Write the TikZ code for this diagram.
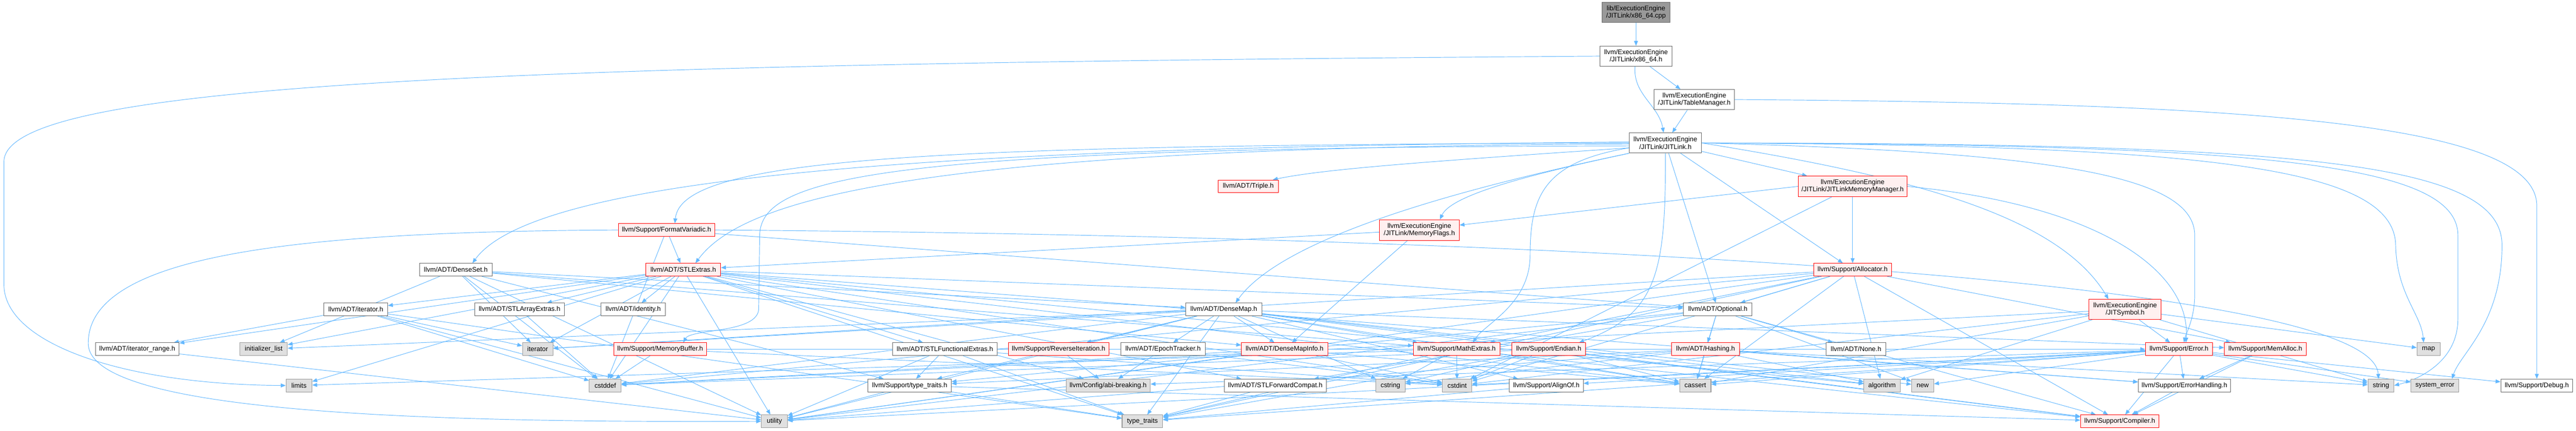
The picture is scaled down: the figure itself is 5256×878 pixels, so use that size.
\documentclass[tikz,border=0pt]{standalone}
\usepackage{fontspec}
\newfontfamily\gfont{Liberation Sans}
\usetikzlibrary{arrows.meta}
\pgfdeclarelayer{bg}
\pgfsetlayers{bg,main}
\definecolor{edgec}{HTML}{63B8FF}
\definecolor{cdark}{HTML}{666666}
\definecolor{cmid}{HTML}{999999}
\definecolor{cgray}{HTML}{E0E0E0}
\definecolor{cred}{HTML}{FF0000}
\definecolor{cpink}{HTML}{FFF0F0}
\tikzset{
  box/.style={draw, line width=1.1pt, inner sep=0pt, align=center,
    font=\gfont\fontsize{13.6pt}{15pt}\selectfont, text=black},
  wn/.style={box, draw=cdark, fill=white},
  rn/.style={box, draw=cred, fill=cpink},
  gn/.style={box, draw=cmid, fill=cgray},
  tn/.style={box, draw=cdark, fill=cmid},
  edge/.style={draw=edgec, line width=1pt, -{Triangle[length=10pt,width=8pt]}, fill=none},
}
\begin{document}
\begin{tikzpicture}[x=1pt,y=1pt]
\useasboundingbox (0,0) rectangle (5256,-878);
% row 0-3
\node[tn, minimum width=139pt, minimum height=41pt] (cpp) at (3338,-25.5) {lib/ExecutionEngine\\/JITLink/x86\_64.cpp};
\node[wn, minimum width=147pt, minimum height=41pt] (x86h) at (3338,-114.5) {llvm/ExecutionEngine\\/JITLink/x86\_64.h};
\node[wn, minimum width=164pt, minimum height=41pt] (tm) at (3457,-203) {llvm/ExecutionEngine\\/JITLink/TableManager.h};
\node[wn, minimum width=147pt, minimum height=41pt] (jl) at (3398,-291.5) {llvm/ExecutionEngine\\/JITLink/JITLink.h};
% row 4
\node[rn, minimum width=222pt, minimum height=42pt] (jlmm) at (3780,-380) {llvm/ExecutionEngine\\/JITLink/JITLinkMemoryManager.h};
\node[rn, minimum width=123pt, minimum height=26pt] (triple) at (2547,-380) {llvm/ADT/Triple.h};
% row 5
\node[rn, minimum width=197pt, minimum height=26pt] (fv) at (1360,-469) {llvm/Support/FormatVariadic.h};
\node[rn, minimum width=163pt, minimum height=42pt] (mf) at (2896,-469) {llvm/ExecutionEngine\\/JITLink/MemoryFlags.h};
% row 6
\node[wn, minimum width=148pt, minimum height=26pt] (dset) at (930,-550) {llvm/ADT/DenseSet.h};
\node[rn, minimum width=153pt, minimum height=26pt] (stlx) at (1394,-550) {llvm/ADT/STLExtras.h};
\node[rn, minimum width=158pt, minimum height=26pt] (alloc) at (3780,-550) {llvm/Support/Allocator.h};
% row 7
\node[wn, minimum width=130pt, minimum height=26pt] (iterh) at (726,-631) {llvm/ADT/iterator.h};
\node[wn, minimum width=183pt, minimum height=26pt] (stlarr) at (1060,-631) {llvm/ADT/STLArrayExtras.h};
\node[wn, minimum width=132pt, minimum height=26pt] (ident) at (1292,-631) {llvm/ADT/identity.h};
\node[wn, minimum width=155pt, minimum height=26pt] (dmap) at (2497,-631) {llvm/ADT/DenseMap.h};
\node[wn, minimum width=140pt, minimum height=26pt] (opt) at (3505,-631) {llvm/ADT/Optional.h};
\node[rn, minimum width=147pt, minimum height=41pt] (jitsym) at (4336,-631) {llvm/ExecutionEngine\\/JITSymbol.h};
% row 8
\node[wn, minimum width=171pt, minimum height=26pt] (itrange) at (280,-712) {llvm/ADT/iterator\_range.h};
\node[gn, minimum width=97pt, minimum height=26pt] (initl) at (538,-712) {initializer\_list};
\node[gn, minimum width=62pt, minimum height=26pt] (iter) at (1097,-712) {iterator};
\node[rn, minimum width=190pt, minimum height=26pt] (membuf) at (1347,-712) {llvm/Support/MemoryBuffer.h};
\node[wn, minimum width=213pt, minimum height=26pt] (stlfunc) at (1928,-712) {llvm/ADT/STLFunctionalExtras.h};
\node[rn, minimum width=205pt, minimum height=26pt] (reviter) at (2160,-712) {llvm/Support/ReverseIteration.h};
\node[wn, minimum width=172pt, minimum height=26pt] (epoch) at (2373,-712) {llvm/ADT/EpochTracker.h};
\node[rn, minimum width=176pt, minimum height=26pt] (dmi) at (2621,-712) {llvm/ADT/DenseMapInfo.h};
\node[rn, minimum width=177pt, minimum height=26pt] (mathx) at (2972,-712) {llvm/Support/MathExtras.h};
\node[rn, minimum width=150pt, minimum height=26pt] (endian) at (3160,-712) {llvm/Support/Endian.h};
\node[rn, minimum width=139pt, minimum height=26pt] (hash) at (3480,-712) {llvm/ADT/Hashing.h};
\node[wn, minimum width=122pt, minimum height=26pt] (none) at (3787,-712) {llvm/ADT/None.h};
\node[rn, minimum width=137pt, minimum height=26pt] (error) at (4446,-712) {llvm/Support/Error.h};
\node[rn, minimum width=167pt, minimum height=26pt] (memalloc) at (4622,-712) {llvm/Support/MemAlloc.h};
\node[gn, minimum width=47pt, minimum height=26pt] (map) at (4955,-712) {map};
% row 9
\node[gn, minimum width=53pt, minimum height=26pt] (limits) at (610,-786) {limits};
\node[gn, minimum width=65pt, minimum height=26pt] (cstddef) at (1235,-786) {cstddef};
\node[wn, minimum width=170pt, minimum height=26pt] (stt) at (1856,-786) {llvm/Support/type\_traits.h};
\node[gn, minimum width=172pt, minimum height=26pt] (abi) at (2261,-786) {llvm/Config/abi-breaking.h};
\node[wn, minimum width=208pt, minimum height=26pt] (stlfwd) at (2602,-786) {llvm/ADT/STLForwardCompat.h};
\node[gn, minimum width=60pt, minimum height=26pt] (cstring) at (2837,-786) {cstring};
\node[gn, minimum width=60pt, minimum height=26pt] (cstdint) at (2973,-786) {cstdint};
\node[wn, minimum width=151pt, minimum height=26pt] (alignof) at (3155,-786) {llvm/Support/AlignOf.h};
\node[gn, minimum width=64pt, minimum height=26pt] (cassert) at (3459,-786) {cassert};
\node[gn, minimum width=74pt, minimum height=26pt] (algorithm) at (3840,-786) {algorithm};
\node[gn, minimum width=45pt, minimum height=26pt] (new) at (3923,-786) {new};
\node[wn, minimum width=188pt, minimum height=26pt] (ehandling) at (4457,-786) {llvm/Support/ErrorHandling.h};
\node[gn, minimum width=53pt, minimum height=26pt] (string) at (4858,-786) {string};
\node[gn, minimum width=97pt, minimum height=26pt] (syserr) at (4968,-786) {system\_error};
\node[wn, minimum width=147pt, minimum height=26pt] (debug) at (5176,-786) {llvm/Support/Debug.h};
% row 10
\node[gn, minimum width=53pt, minimum height=26pt] (utility) at (1580,-859) {utility};
\node[gn, minimum width=83pt, minimum height=26pt] (typetraits) at (2331,-859) {type\_traits};
\node[rn, minimum width=160pt, minimum height=26pt] (compiler) at (4325,-859) {llvm/Support/Compiler.h};

\begin{pgfonlayer}{bg}
\fill[white] (0,0) rectangle (5256,-878);
\foreach \a/\b in {cpp/x86h, x86h/tm, tm/jl, jl/jlmm, jl/opt, jl/alloc,
  jlmm/alloc, fv/stlx, fv/opt, fv/cstddef, mf/dmi, mf/stlx, jlmm/cstdint,
  stlx/ident, stlx/stlarr, stlx/iterh, stlx/iter, stlx/cstddef, stlx/utility, stlx/typetraits,
  stlx/stlfunc, stlx/stlfwd, stlx/abi, stlx/opt, stlx/algorithm, stlx/cassert, stlx/cstdint,
  stlx/ehandling, stlx/itrange, stlx/initl, stlx/limits,
  dset/dmap, dset/iter, dset/cstddef, dset/utility, dset/stt, dset/dmi, dset/mathx, dset/initl,
  iterh/itrange, iterh/cstddef, iterh/iter, iterh/typetraits, iterh/utility,
  itrange/utility, stlarr/cstddef,
  dmap/dmi, dmap/epoch, dmap/alignof, dmap/compiler, dmap/mathx, dmap/memalloc, dmap/reviter,
  dmap/stt, dmap/algorithm, dmap/cassert, dmap/cstddef, dmap/cstring, dmap/iter, dmap/new,
  dmap/typetraits, dmap/utility, dmap/initl,
  opt/hash, opt/none, opt/stlfwd, opt/compiler, opt/stt, opt/cassert, opt/new, opt/utility,
  membuf/cstddef, membuf/cstdint, membuf/error,
  stlfunc/stt, stlfunc/cstdint, stlfunc/typetraits, stlfunc/utility,
  reviter/abi, epoch/abi, epoch/cstdint,
  dmi/cassert, dmi/cstddef, dmi/cstdint, dmi/utility,
  mathx/compiler, mathx/cassert, mathx/cstdint, mathx/cstring, mathx/limits, mathx/typetraits,
  endian/compiler, endian/cassert, endian/cstddef, endian/cstdint, endian/cstring, endian/typetraits,
  hash/ehandling, hash/stt, hash/algorithm, hash/cassert, hash/cstring, hash/string, hash/utility,
  alloc/opt, alloc/compiler, alloc/mathx, alloc/memalloc, alloc/algorithm, alloc/cassert,
  alloc/cstddef, alloc/cstdint, alloc/iter, alloc/typetraits, alloc/utility,
  jitsym/error, jitsym/algorithm, jitsym/cassert, jitsym/cstddef, jitsym/cstdint, jitsym/map, jitsym/string,
  error/abi, error/alignof, error/compiler, error/debug, error/ehandling, error/cassert,
  error/cstdint, error/new, error/string, error/syserr, error/typetraits, error/utility,
  memalloc/compiler, memalloc/ehandling, ehandling/compiler,
  stt/compiler, stt/typetraits, stt/utility, alignof/typetraits, stlfwd/typetraits}
  \draw[edge] (\a) -- (\b);
\draw[edge] (x86h) to[out=-95,in=100] (jl);
\draw[edge] (x86h.west) .. controls (1000,-130) and (8,-170) .. (8,-330) -- (8,-580) .. controls (8,-700) and (250,-784) .. (limits.west);
\draw[edge] (tm.east) .. controls (4600,-210) and (5176,-250) .. (5176,-420) -- (debug.north);
\draw[edge] ([yshift=-10pt]jl.west) .. controls (2900,-330) and (2700,-345) .. ([xshift=50pt]triple.north);
\draw[edge] ([yshift=2pt]jl.west) .. controls (2000,-300) and (1100,-350) .. ([xshift=34pt]dset.north);
\draw[edge] (jl.west) .. controls (1900,-296) and (1390,-320) .. ([xshift=17pt]fv.north);
\draw[edge] ([yshift=-2pt]jl.west) .. controls (1900,-300) and (1520,-400) .. ([xshift=25pt]stlx.north);
\draw[edge] ([yshift=-6pt]jl.west) .. controls (1800,-300) and (1552,-360) .. (1550,-480) -- (1548,-630) .. controls (1546,-680) and (1410,-670) .. ([xshift=47pt]membuf.north);
\draw[edge] (jl.south west) .. controls (3000,-380) and (2620,-480) .. ([xshift=24pt]dmap.north);
\draw[edge] (jl.south west) .. controls (3100,-360) and (2960,-400) .. ([xshift=42pt]mf.north);
\draw[edge] ([yshift=-10pt]jl.west) .. controls (3150,-330) and (3122,-400) .. (3122,-520) .. controls (3122,-620) and (3030,-660) .. ([xshift=33pt]mathx.north);
\draw[edge] (jl.south) .. controls (3399,-560) and (3380,-640) .. ([xshift=62pt]endian.north);
\draw[edge] (jl.east) .. controls (3900,-360) and (4200,-440) .. ([xshift=-34pt]jitsym.north);
\draw[edge] (jl.east) .. controls (4200,-310) and (4478,-360) .. (4478,-480) -- (4478,-600) .. controls (4478,-650) and (4460,-680) .. ([xshift=10pt]error.north);
\draw[edge] (jl.east) .. controls (4500,-296) and (4885,-340) .. (4888,-500) .. controls (4890,-600) and (4940,-640) .. ([xshift=-10pt]map.north);
\draw[edge] (jl.east) .. controls (4600,-294) and (5015,-330) .. (5015,-480) -- (5015,-650) .. controls (5015,-740) and (4930,-775) .. (string.east);
\draw[edge] (jl.east) .. controls (4700,-292) and (5105,-330) .. (5105,-500) .. controls (5105,-660) and (5020,-720) .. ([xshift=35pt]syserr.north);
\draw[edge] (jlmm.west) -- ([yshift=10pt]mf.east);
\draw[edge] (jlmm.east) .. controls (4300,-420) and (4470,-560) .. ([xshift=14pt]error.north);
\draw[edge] (fv.west) .. controls (600,-472) and (180,-520) .. (180,-700) .. controls (180,-845) and (900,-862) .. (utility.west);
\draw[edge] (fv.east) .. controls (3000,-480) and (4840,-560) .. ([xshift=-5pt]string.north);
\end{pgfonlayer}
\end{tikzpicture}
\end{document}
